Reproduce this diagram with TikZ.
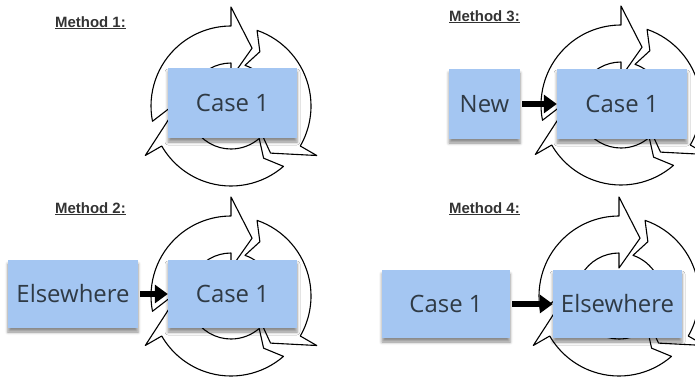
\documentclass[tikz,border=0pt]{standalone}
\usepackage{fontspec}
\setmainfont{Open Sans}
\newfontfamily\lblfont{Liberation Sans}
\usetikzlibrary{arrows.meta,shadows.blur}
\definecolor{boxblue}{HTML}{A4C6F2}
\definecolor{txtgray}{HTML}{2F3A45}
\definecolor{lblgray}{HTML}{333333}
\tikzset{
  cycarrow/.style={draw=black, fill=white, line width=1.1bp, line join=round},
  pics/cycle/.style={code={
    \begin{scope}[yscale=-1]
    \foreach \h in {90,-30,-150}{
      \path[cycarrow] (\h+101:80) arc[start angle=\h+101, end angle=\h, radius=80]
        -- (\h:99) -- (\h-20:61.5) -- (\h:28) -- (\h:43)
        arc[start angle=\h, end angle=\h+101, radius=43]
        -- (\h+92:61.5) -- cycle;
    }
    \end{scope}
  }},
  casebox/.style={fill=boxblue, inner sep=0pt, text=txtgray,
    font=\fontsize{24}{28}\selectfont,
    blur shadow={shadow xshift=0bp, shadow yshift=-4bp, shadow blur radius=3bp, shadow opacity=45}},
  lbl/.style={anchor=base west, inner sep=0pt, text=lblgray,
    font=\lblfont\bfseries\fontsize{15}{18}\selectfont},
  fatarrow/.style={line width=5.5bp, -{Triangle[length=13bp,width=18bp]}, shorten <=2bp}
}
\begin{document}
\begin{tikzpicture}[x=1bp,y=-1bp]
\useasboundingbox (0,0) rectangle (695,377);
% cycle icons
\pic at (231,106) {cycle};
\pic at (231,296) {cycle};
\pic at (621,105) {cycle};
\pic at (619,296) {cycle};
% labels
\node[lbl] (l1) at (55,27) {\underline{Method 1:}};
\node[lbl] (l2) at (55,213) {\underline{Method 2:}};
\node[lbl] (l3) at (449,21) {\underline{Method 3:}};
\node[lbl] (l4) at (449,213) {\underline{Method 4:}};
% method 1
\node[casebox, minimum width=129bp, minimum height=70bp] (m1c) at (232.5,103) {Case 1};
% method 2
\node[casebox, minimum width=130bp, minimum height=68bp] (m2e) at (73,294) {Elsewhere};
\node[casebox, minimum width=129bp, minimum height=68bp] (m2c) at (232.5,294) {Case 1};
% method 3
\node[casebox, minimum width=71bp, minimum height=70bp] (m3n) at (484.5,104) {New};
\node[casebox, minimum width=130bp, minimum height=70bp] (m3c) at (622,104) {Case 1};
% method 4
\node[casebox, minimum width=128bp, minimum height=68bp] (m4c) at (446,304) {Case 1};
\node[casebox, minimum width=129bp, minimum height=68bp] (m4e) at (617.5,304) {Elsewhere};
% arrows
\draw[fatarrow] (m2e.east) -- (m2c.west);
\draw[fatarrow] (m3n.east) -- (m3c.west);
\draw[fatarrow] (m4c.east) -- (m4e.west);
\end{tikzpicture}
\end{document}
